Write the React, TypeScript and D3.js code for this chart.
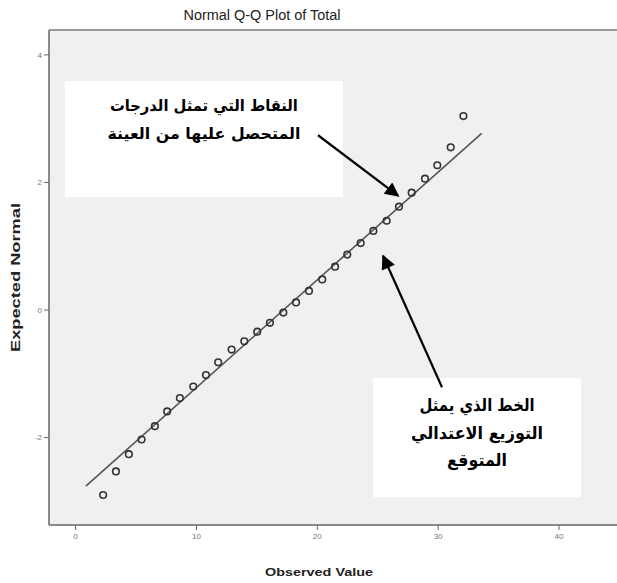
import React, { useRef, useEffect } from "react";
import * as d3 from "d3";

const observed = [
    2.28, 3.34, 4.41, 5.46, 6.56, 7.58, 8.63, 9.74, 10.79, 11.8, 12.91, 13.96, 15.03, 16.08, 17.19,
    18.24, 19.31, 20.41, 21.47, 22.48, 23.59, 24.64, 25.74, 26.76, 27.81, 28.91, 29.93, 31.04, 32.09,
];
const expected = [
    -2.9, -2.53, -2.26, -2.03, -1.82, -1.59, -1.38, -1.2, -1.02, -0.82, -0.62, -0.49, -0.34, -0.2, -0.04,
    0.12, 0.3, 0.48, 0.68, 0.87, 1.05, 1.24, 1.4, 1.62, 1.84, 2.06, 2.27, 2.55, 3.04,
];

// Reference normal line end points
const lineX = [0.85, 33.6];
const lineY = [-2.76, 2.77];

const xTicks = [0, 10, 20, 30, 40];
const yTicks = [-2, 0, 2, 4];

const title = "Normal Q-Q Plot of Total";
const xLabel = "Observed Value";
const yLabel = "Expected Normal";

// Annotation boxes (data coordinates) and their lines of text
const boxPoints = { x0: -0.89, x1: 22.13, y0: 3.59, y1: 1.77 };
const boxPointsText = ["النقاط التي تمثل الدرجات", "المتحصل عليها من العينة"];
const boxPointsWidths = [188, 193];
const boxLine = { x0: 24.61, x1: 41.83, y0: -1.07, y1: -2.93 };
const boxLineText = ["الخط الذي يمثل", "التوزيع الاعتدالي", "المتوقع"];
const boxLineWidths = [115, 132, 60];

// Arrows: [tailX, tailY, tipX, tipY] in data coordinates
const arrows = [
    [20.06, 2.74, 26.7, 1.79],
    [30.32, -1.21, 25.44, 0.85],
];

const W = 617;
const H = 583;

const App: React.FC = () => {
    const svgRef = useRef<SVGSVGElement>(null);

    useEffect(() => {
        const svgEl = svgRef.current;
        if (!svgEl) return;
        d3.select(svgEl).selectAll("*").remove();

        const svg = d3.select(svgEl);

        const plot = { left: 49, right: 617, top: 30, bottom: 525 };

        const x = d3.scaleLinear().domain([-2.2, 44.8]).range([plot.left, plot.right]);
        const y = d3.scaleLinear().domain([-3.37, 4.39]).range([plot.bottom, plot.top]);

        svg.append("rect").attr("width", W).attr("height", H).attr("fill", "#fff");

        // plot background
        svg.append("rect")
            .attr("x", plot.left)
            .attr("y", plot.top)
            .attr("width", plot.right - plot.left)
            .attr("height", plot.bottom - plot.top)
            .attr("fill", "#f0f0f0");

        // top frame line
        svg.append("line")
            .attr("x1", plot.left).attr("x2", plot.right)
            .attr("y1", plot.top).attr("y2", plot.top)
            .attr("stroke", "#999").attr("stroke-width", 2);

        // annotation boxes
        const drawBox = (b: typeof boxPoints) => {
            svg.append("rect")
                .attr("x", x(b.x0))
                .attr("y", y(b.y0))
                .attr("width", x(b.x1) - x(b.x0))
                .attr("height", y(b.y1) - y(b.y0))
                .attr("fill", "#fff");
            return (x(b.x0) + x(b.x1)) / 2;
        };
        const cx1 = drawBox(boxPoints);
        const cx2 = drawBox(boxLine);

        // reference line
        svg.append("line")
            .attr("x1", x(lineX[0])).attr("y1", y(lineY[0]))
            .attr("x2", x(lineX[1])).attr("y2", y(lineY[1]))
            .attr("stroke", "#555").attr("stroke-width", 1.6);

        // points
        svg.append("g")
            .selectAll("circle")
            .data(observed)
            .join("circle")
            .attr("cx", (d) => x(d))
            .attr("cy", (_, i) => y(expected[i]))
            .attr("r", 3.3)
            .attr("fill", "none")
            .attr("stroke", "#333")
            .attr("stroke-width", 1.6);

        // axes
        const axisColor = "#666";
        svg.append("line")
            .attr("x1", plot.left).attr("x2", plot.left)
            .attr("y1", plot.top).attr("y2", plot.bottom)
            .attr("stroke", axisColor).attr("stroke-width", 1.5);
        svg.append("line")
            .attr("x1", plot.left).attr("x2", plot.right)
            .attr("y1", plot.bottom).attr("y2", plot.bottom)
            .attr("stroke", axisColor).attr("stroke-width", 1.5);

        const yAxis = svg.append("g");
        yTicks.forEach((t) => {
            yAxis.append("line")
                .attr("x1", plot.left - 5).attr("x2", plot.left)
                .attr("y1", y(t)).attr("y2", y(t))
                .attr("stroke", axisColor);
            yAxis.append("text")
                .attr("x", plot.left - 7)
                .attr("y", y(t))
                .attr("dy", "0.35em")
                .attr("text-anchor", "end")
                .attr("font-family", "Liberation Sans, Arial, sans-serif")
                .attr("font-size", 8)
                .attr("fill", "#777")
                .text(t);
        });

        const xAxis = svg.append("g");
        xTicks.forEach((t) => {
            xAxis.append("line")
                .attr("x1", x(t)).attr("x2", x(t))
                .attr("y1", plot.bottom).attr("y2", plot.bottom + 5)
                .attr("stroke", axisColor);
            xAxis.append("text")
                .attr("x", x(t))
                .attr("y", plot.bottom + 14)
                .attr("text-anchor", "middle")
                .attr("font-family", "Liberation Sans, Arial, sans-serif")
                .attr("font-size", 8)
                .attr("fill", "#777")
                .text(t);
        });

        // titles
        svg.append("text")
            .attr("x", 262)
            .attr("y", 20)
            .attr("text-anchor", "middle")
            .attr("font-family", "Liberation Sans Narrow, Liberation Sans, Arial, sans-serif")
            .attr("font-size", 14)
            .attr("fill", "#222")
            .attr("textLength", 157)
            .attr("lengthAdjust", "spacingAndGlyphs")
            .text(title);

        svg.append("text")
            .attr("x", 319)
            .attr("y", 576)
            .attr("text-anchor", "middle")
            .attr("font-family", "Liberation Sans, Arial, sans-serif")
            .attr("font-weight", "bold")
            .attr("font-size", 11.5)
            .attr("fill", "#222")
            .attr("textLength", 108)
            .attr("lengthAdjust", "spacingAndGlyphs")
            .text(xLabel);

        svg.append("text")
            .attr("transform", `translate(19.5, 277.5) rotate(-90)`)
            .attr("text-anchor", "middle")
            .attr("font-family", "Liberation Sans, Arial, sans-serif")
            .attr("font-weight", "bold")
            .attr("font-size", 12)
            .attr("fill", "#222")
            .attr("textLength", 149)
            .attr("lengthAdjust", "spacingAndGlyphs")
            .text(yLabel);

        // annotation text
        [
            { cx: cx1, lines: boxPointsText, widths: boxPointsWidths, size: 16, gap: 28, top: y(boxPoints.y0) + 30 },
            { cx: cx2, lines: boxLineText, widths: boxLineWidths, size: 17, gap: 27.5, top: y(boxLine.y0) + 33 },
        ].forEach((b) => {
            b.lines.forEach((line, i) => {
                svg.append("text")
                    .attr("x", b.cx)
                    .attr("y", b.top + i * b.gap)
                    .attr("text-anchor", "middle")
                    .attr("direction", "rtl")
                    .attr("font-family", "DejaVu Sans, sans-serif")
                    .attr("font-weight", "bold")
                    .attr("font-size", b.size)
                    .attr("fill", "#000")
                    .attr("textLength", b.widths[i])
                    .attr("lengthAdjust", "spacingAndGlyphs")
                    .text(line);
            });
        });

        // arrows
        const defs = svg.append("defs");
        defs.append("marker")
            .attr("id", "arrowHead")
            .attr("viewBox", "0 0 10 10")
            .attr("refX", 9)
            .attr("refY", 5)
            .attr("markerWidth", 7.5)
            .attr("markerHeight", 6.5)
            .attr("markerUnits", "strokeWidth")
            .attr("orient", "auto")
            .append("path")
            .attr("d", "M0,0 L10,5 L0,10 Z")
            .attr("fill", "#000");

        arrows.forEach(([x0, y0, x1, y1]) => {
            svg.append("line")
                .attr("x1", x(x0)).attr("y1", y(y0))
                .attr("x2", x(x1)).attr("y2", y(y1))
                .attr("stroke", "#000")
                .attr("stroke-width", 2.2)
                .attr("marker-end", "url(#arrowHead)");
        });
    }, []);

    return (
        <svg
            ref={svgRef}
            width={W}
            height={H}
            style={{ position: "absolute", left: 0, top: 0, display: "block" }}
        />
    );
};

export default App;
